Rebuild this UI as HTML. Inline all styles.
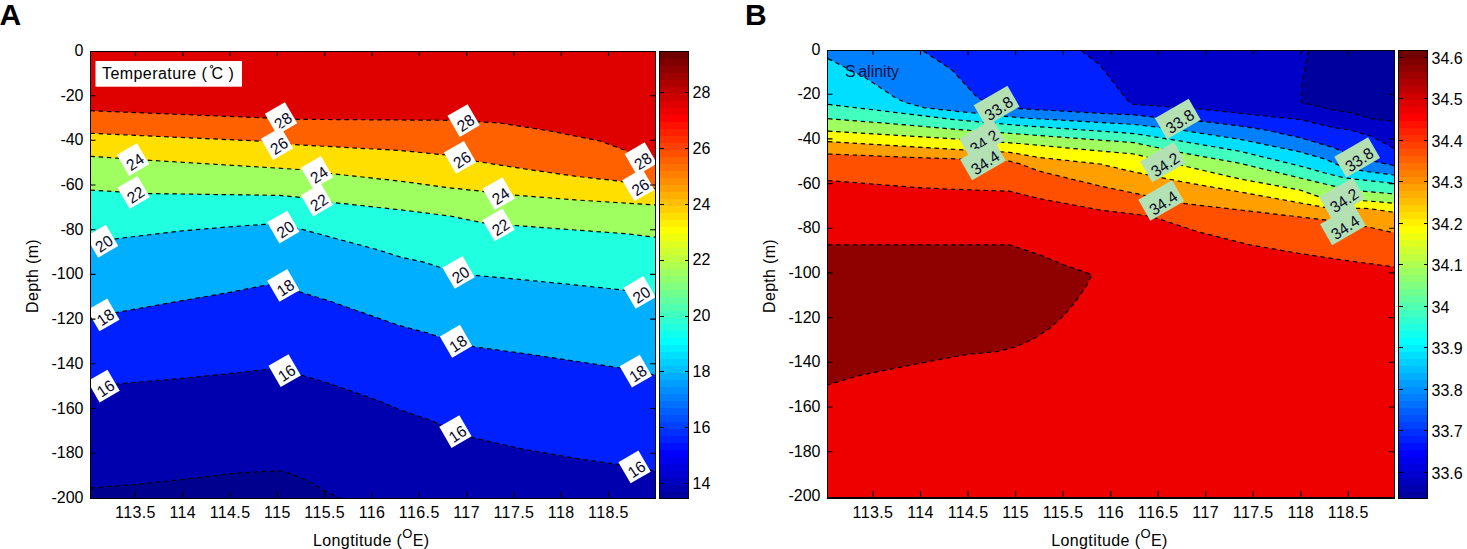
<!DOCTYPE html>
<html><head><meta charset="utf-8"><title>Temperature and Salinity sections</title>
<style>html,body{margin:0;padding:0;background:#fff;}svg{display:block;}body{font-family:"Liberation Sans", sans-serif;}</style></head>
<body>
<svg width="1467" height="549" viewBox="0 0 1467 549" font-family='"Liberation Sans", sans-serif'>
<rect width="1467" height="549" fill="#fff"/>
<text x="-0.5" y="24.5" font-size="30" font-weight="bold">A</text>
<clipPath id="ca"><rect x="90.5" y="51.5" width="565.0" height="447.0"/></clipPath>
<g clip-path="url(#ca)">
<rect x="90.5" y="51.5" width="565.0" height="447.0" fill="#DF0000"/>
<polygon points="90.5,110.7 263.0,117.8 279.0,118.5 297.0,119.3 446.0,120.3 480.0,121.8 500.0,123.0 550.0,131.0 600.0,141.0 624.5,150.0 640.0,158.0 655.5,166.0 655.5,498.5 90.5,498.5" fill="#FF6000"/>
<polygon points="90.5,133.3 260.0,141.1 279.0,143.0 294.6,144.6 400.0,150.5 446.0,155.0 462.0,158.5 475.0,161.1 525.0,169.0 575.0,176.2 619.5,181.1 638.0,185.0 655.5,189.0 655.5,498.5 90.5,498.5" fill="#FFDF00"/>
<polygon points="90.5,156.3 136.0,159.5 299.6,169.5 316.0,172.0 332.0,173.7 400.0,181.1 446.0,187.4 480.0,191.1 496.0,193.5 512.0,194.9 575.0,199.9 655.5,204.9 655.5,498.5 90.5,498.5" fill="#9FFF60"/>
<polygon points="90.5,190.0 136.0,193.0 150.0,193.6 279.6,195.4 299.6,197.4 316.0,200.0 332.0,202.4 400.0,209.8 450.0,216.0 480.0,222.3 498.0,224.5 515.0,225.5 575.0,230.0 624.5,233.6 655.5,237.2 655.5,498.5 90.5,498.5" fill="#20FFDF"/>
<polygon points="90.5,245.0 103.7,241.2 117.4,238.6 179.8,231.1 229.7,226.8 264.6,224.4 279.0,224.0 299.6,228.7 329.5,236.8 379.4,250.3 400.0,256.9 425.0,262.4 443.7,268.6 458.6,272.4 474.8,275.4 524.7,279.9 574.6,284.9 622.0,289.9 639.5,292.4 655.5,295.0 655.5,498.5 90.5,498.5" fill="#00AFFF"/>
<polygon points="90.5,318.0 105.0,314.8 117.4,312.3 179.8,301.1 229.7,292.4 264.6,285.4 279.0,283.5 299.6,291.9 329.5,301.0 379.4,318.6 400.0,325.7 429.3,333.5 440.0,337.3 456.0,341.2 474.8,347.0 524.7,353.6 574.6,361.1 617.0,367.4 635.8,371.1 655.5,375.0 655.5,498.5 90.5,498.5" fill="#0020FF"/>
<polygon points="90.5,389.0 105.0,386.0 117.4,384.0 179.8,378.6 229.7,373.6 267.0,369.4 279.0,368.5 302.0,375.4 329.5,383.6 379.4,401.0 400.0,409.8 429.3,419.8 437.4,423.3 456.0,431.5 474.8,438.3 524.7,449.4 574.6,458.2 617.0,464.4 634.5,466.9 655.5,471.0 655.5,498.5 90.5,498.5" fill="#0000AF"/>
<polygon points="90.5,488.0 136.0,484.4 184.0,479.4 231.5,473.6 264.5,471.4 279.4,470.9 292.0,473.9 311.9,483.1 324.4,490.6 340.6,498.5 90.5,498.5" fill="#00008F"/>
<polyline points="90.5,110.7 263.0,117.8 279.0,118.5 297.0,119.3 446.0,120.3 480.0,121.8 500.0,123.0 550.0,131.0 600.0,141.0 624.5,150.0 640.0,158.0 655.5,166.0" stroke="#000" stroke-width="1.2" fill="none" stroke-dasharray="4.5 3.7"/>
<polyline points="90.5,133.3 260.0,141.1 279.0,143.0 294.6,144.6 400.0,150.5 446.0,155.0 462.0,158.5 475.0,161.1 525.0,169.0 575.0,176.2 619.5,181.1 638.0,185.0 655.5,189.0" stroke="#000" stroke-width="1.2" fill="none" stroke-dasharray="4.5 3.7"/>
<polyline points="90.5,156.3 136.0,159.5 299.6,169.5 316.0,172.0 332.0,173.7 400.0,181.1 446.0,187.4 480.0,191.1 496.0,193.5 512.0,194.9 575.0,199.9 655.5,204.9" stroke="#000" stroke-width="1.2" fill="none" stroke-dasharray="4.5 3.7"/>
<polyline points="90.5,190.0 136.0,193.0 150.0,193.6 279.6,195.4 299.6,197.4 316.0,200.0 332.0,202.4 400.0,209.8 450.0,216.0 480.0,222.3 498.0,224.5 515.0,225.5 575.0,230.0 624.5,233.6 655.5,237.2" stroke="#000" stroke-width="1.2" fill="none" stroke-dasharray="4.5 3.7"/>
<polyline points="90.5,245.0 103.7,241.2 117.4,238.6 179.8,231.1 229.7,226.8 264.6,224.4 279.0,224.0 299.6,228.7 329.5,236.8 379.4,250.3 400.0,256.9 425.0,262.4 443.7,268.6 458.6,272.4 474.8,275.4 524.7,279.9 574.6,284.9 622.0,289.9 639.5,292.4 655.5,295.0" stroke="#000" stroke-width="1.2" fill="none" stroke-dasharray="4.5 3.7"/>
<polyline points="90.5,318.0 105.0,314.8 117.4,312.3 179.8,301.1 229.7,292.4 264.6,285.4 279.0,283.5 299.6,291.9 329.5,301.0 379.4,318.6 400.0,325.7 429.3,333.5 440.0,337.3 456.0,341.2 474.8,347.0 524.7,353.6 574.6,361.1 617.0,367.4 635.8,371.1 655.5,375.0" stroke="#000" stroke-width="1.2" fill="none" stroke-dasharray="4.5 3.7"/>
<polyline points="90.5,389.0 105.0,386.0 117.4,384.0 179.8,378.6 229.7,373.6 267.0,369.4 279.0,368.5 302.0,375.4 329.5,383.6 379.4,401.0 400.0,409.8 429.3,419.8 437.4,423.3 456.0,431.5 474.8,438.3 524.7,449.4 574.6,458.2 617.0,464.4 634.5,466.9 655.5,471.0" stroke="#000" stroke-width="1.2" fill="none" stroke-dasharray="4.5 3.7"/>
<polyline points="90.5,488.0 136.0,484.4 184.0,479.4 231.5,473.6 264.5,471.4 279.4,470.9 292.0,473.9 311.9,483.1 324.4,490.6 340.6,498.5" stroke="#000" stroke-width="1.2" fill="none" stroke-dasharray="4.5 3.7"/>
<g transform="translate(281.0 118.5) rotate(-30)"><rect x="-11.6" y="-12.2" width="23.2" height="24.5" fill="#fff"/><text transform="translate(1.0 8.8) rotate(-4) scale(0.97 1)" font-size="16" text-anchor="middle" fill="#0a0a28">28</text></g>
<g transform="translate(463.6 120.5) rotate(-30)"><rect x="-11.6" y="-12.2" width="23.2" height="24.5" fill="#fff"/><text transform="translate(1.0 8.8) rotate(-4) scale(0.97 1)" font-size="16" text-anchor="middle" fill="#0a0a28">28</text></g>
<g transform="translate(640.8 158.7) rotate(-30)"><rect x="-11.6" y="-12.2" width="23.2" height="24.5" fill="#fff"/><text transform="translate(1.0 8.8) rotate(-4) scale(0.97 1)" font-size="16" text-anchor="middle" fill="#0a0a28">28</text></g>
<g transform="translate(277.0 143.5) rotate(-30)"><rect x="-11.6" y="-12.2" width="23.2" height="24.5" fill="#fff"/><text transform="translate(1.0 8.8) rotate(-4) scale(0.97 1)" font-size="16" text-anchor="middle" fill="#0a0a28">26</text></g>
<g transform="translate(460.0 157.3) rotate(-30)"><rect x="-11.6" y="-12.2" width="23.2" height="24.5" fill="#fff"/><text transform="translate(1.0 8.8) rotate(-4) scale(0.97 1)" font-size="16" text-anchor="middle" fill="#0a0a28">26</text></g>
<g transform="translate(638.3 184.9) rotate(-30)"><rect x="-11.6" y="-12.2" width="23.2" height="24.5" fill="#fff"/><text transform="translate(1.0 8.8) rotate(-4) scale(0.97 1)" font-size="16" text-anchor="middle" fill="#0a0a28">26</text></g>
<g transform="translate(133.0 159.5) rotate(-30)"><rect x="-11.6" y="-12.2" width="23.2" height="24.5" fill="#fff"/><text transform="translate(1.0 8.8) rotate(-4) scale(0.97 1)" font-size="16" text-anchor="middle" fill="#0a0a28">24</text></g>
<g transform="translate(317.0 172.4) rotate(-30)"><rect x="-11.6" y="-12.2" width="23.2" height="24.5" fill="#fff"/><text transform="translate(1.0 8.8) rotate(-4) scale(0.97 1)" font-size="16" text-anchor="middle" fill="#0a0a28">24</text></g>
<g transform="translate(498.6 193.6) rotate(-30)"><rect x="-11.6" y="-12.2" width="23.2" height="24.5" fill="#fff"/><text transform="translate(1.0 8.8) rotate(-4) scale(0.97 1)" font-size="16" text-anchor="middle" fill="#0a0a28">24</text></g>
<g transform="translate(133.6 192.4) rotate(-30)"><rect x="-11.6" y="-12.2" width="23.2" height="24.5" fill="#fff"/><text transform="translate(1.0 8.8) rotate(-4) scale(0.97 1)" font-size="16" text-anchor="middle" fill="#0a0a28">22</text></g>
<g transform="translate(317.0 200.0) rotate(-30)"><rect x="-11.6" y="-12.2" width="23.2" height="24.5" fill="#fff"/><text transform="translate(1.0 8.8) rotate(-4) scale(0.97 1)" font-size="16" text-anchor="middle" fill="#0a0a28">22</text></g>
<g transform="translate(498.6 224.8) rotate(-30)"><rect x="-11.6" y="-12.2" width="23.2" height="24.5" fill="#fff"/><text transform="translate(1.0 8.8) rotate(-4) scale(0.97 1)" font-size="16" text-anchor="middle" fill="#0a0a28">22</text></g>
<g transform="translate(102.0 241.2) rotate(-30)"><rect x="-11.6" y="-12.2" width="23.2" height="24.5" fill="#fff"/><text transform="translate(1.0 8.8) rotate(-4) scale(0.97 1)" font-size="16" text-anchor="middle" fill="#0a0a28">20</text></g>
<g transform="translate(283.3 227.0) rotate(-30)"><rect x="-11.6" y="-12.2" width="23.2" height="24.5" fill="#fff"/><text transform="translate(1.0 8.8) rotate(-4) scale(0.97 1)" font-size="16" text-anchor="middle" fill="#0a0a28">20</text></g>
<g transform="translate(458.6 272.4) rotate(-30)"><rect x="-11.6" y="-12.2" width="23.2" height="24.5" fill="#fff"/><text transform="translate(1.0 8.8) rotate(-4) scale(0.97 1)" font-size="16" text-anchor="middle" fill="#0a0a28">20</text></g>
<g transform="translate(639.5 292.4) rotate(-30)"><rect x="-11.6" y="-12.2" width="23.2" height="24.5" fill="#fff"/><text transform="translate(1.0 8.8) rotate(-4) scale(0.97 1)" font-size="16" text-anchor="middle" fill="#0a0a28">20</text></g>
<g transform="translate(103.3 314.8) rotate(-30)"><rect x="-11.6" y="-12.2" width="23.2" height="24.5" fill="#fff"/><text transform="translate(1.0 8.8) rotate(-4) scale(0.97 1)" font-size="16" text-anchor="middle" fill="#0a0a28">18</text></g>
<g transform="translate(283.3 285.4) rotate(-30)"><rect x="-11.6" y="-12.2" width="23.2" height="24.5" fill="#fff"/><text transform="translate(1.0 8.8) rotate(-4) scale(0.97 1)" font-size="16" text-anchor="middle" fill="#0a0a28">18</text></g>
<g transform="translate(456.0 341.2) rotate(-30)"><rect x="-11.6" y="-12.2" width="23.2" height="24.5" fill="#fff"/><text transform="translate(1.0 8.8) rotate(-4) scale(0.97 1)" font-size="16" text-anchor="middle" fill="#0a0a28">18</text></g>
<g transform="translate(635.8 371.1) rotate(-30)"><rect x="-11.6" y="-12.2" width="23.2" height="24.5" fill="#fff"/><text transform="translate(1.0 8.8) rotate(-4) scale(0.97 1)" font-size="16" text-anchor="middle" fill="#0a0a28">18</text></g>
<g transform="translate(103.5 386.0) rotate(-30)"><rect x="-11.6" y="-12.2" width="23.2" height="24.5" fill="#fff"/><text transform="translate(1.0 8.8) rotate(-4) scale(0.97 1)" font-size="16" text-anchor="middle" fill="#0a0a28">16</text></g>
<g transform="translate(284.6 370.6) rotate(-30)"><rect x="-11.6" y="-12.2" width="23.2" height="24.5" fill="#fff"/><text transform="translate(1.0 8.8) rotate(-4) scale(0.97 1)" font-size="16" text-anchor="middle" fill="#0a0a28">16</text></g>
<g transform="translate(455.4 431.5) rotate(-30)"><rect x="-11.6" y="-12.2" width="23.2" height="24.5" fill="#fff"/><text transform="translate(1.0 8.8) rotate(-4) scale(0.97 1)" font-size="16" text-anchor="middle" fill="#0a0a28">16</text></g>
<g transform="translate(634.5 466.9) rotate(-30)"><rect x="-11.6" y="-12.2" width="23.2" height="24.5" fill="#fff"/><text transform="translate(1.0 8.8) rotate(-4) scale(0.97 1)" font-size="16" text-anchor="middle" fill="#0a0a28">16</text></g>
</g>
<rect x="95.5" y="61" width="146.5" height="25.7" fill="#fff"/>
<text x="102" y="78.5" font-size="16" letter-spacing="0.43">Temperature (</text>
<circle cx="211.6" cy="66.6" r="1.2" fill="none" stroke="#000" stroke-width="1"/>
<text x="211.6" y="78.5" font-size="16" letter-spacing="0.43">C )</text>
<g stroke="#000" stroke-width="1.1" fill="none"><rect x="90.5" y="51.5" width="565.0" height="447.0" shape-rendering="crispEdges"/><path d="M135.5 498.5v-7M135.5 51.5v4.5"/><path d="M182.8 498.5v-7M182.8 51.5v4.5"/><path d="M230.1 498.5v-7M230.1 51.5v4.5"/><path d="M277.4 498.5v-7M277.4 51.5v4.5"/><path d="M324.7 498.5v-7M324.7 51.5v4.5"/><path d="M372.0 498.5v-7M372.0 51.5v4.5"/><path d="M419.3 498.5v-7M419.3 51.5v4.5"/><path d="M466.6 498.5v-7M466.6 51.5v4.5"/><path d="M513.9 498.5v-7M513.9 51.5v4.5"/><path d="M561.2 498.5v-7M561.2 51.5v4.5"/><path d="M608.5 498.5v-7M608.5 51.5v4.5"/><path d="M90.5 95.7h5M655.5 95.7h-5.5"/><path d="M90.5 140.3h5M655.5 140.3h-5.5"/><path d="M90.5 185.0h5M655.5 185.0h-5.5"/><path d="M90.5 229.7h5M655.5 229.7h-5.5"/><path d="M90.5 274.4h5M655.5 274.4h-5.5"/><path d="M90.5 319.1h5M655.5 319.1h-5.5"/><path d="M90.5 363.8h5M655.5 363.8h-5.5"/><path d="M90.5 408.5h5M655.5 408.5h-5.5"/><path d="M90.5 453.2h5M655.5 453.2h-5.5"/></g>
<g font-size="16" fill="#000" text-anchor="end"><text x="83.5" y="56.0">0</text><text x="83.5" y="100.7">-20</text><text x="83.5" y="145.3">-40</text><text x="83.5" y="190.0">-60</text><text x="83.5" y="234.7">-80</text><text x="83.5" y="279.4">-100</text><text x="83.5" y="324.1">-120</text><text x="83.5" y="368.8">-140</text><text x="83.5" y="413.5">-160</text><text x="83.5" y="458.2">-180</text><text x="83.5" y="502.9">-200</text></g>
<g font-size="16" fill="#000" text-anchor="middle" letter-spacing="0.4"><text x="135.5" y="518.4">113.5</text><text x="182.8" y="518.4">114</text><text x="230.1" y="518.4">114.5</text><text x="277.4" y="518.4">115</text><text x="324.7" y="518.4">115.5</text><text x="372.0" y="518.4">116</text><text x="419.3" y="518.4">116.5</text><text x="466.6" y="518.4">117</text><text x="513.9" y="518.4">117.5</text><text x="561.2" y="518.4">118</text><text x="608.5" y="518.4">118.5</text></g>
<text x="371.3" y="545.6" font-size="16" letter-spacing="0.4" text-anchor="middle">Longtitude (<tspan dy="-8" font-size="13">O</tspan><tspan dy="8">E)</tspan></text>
<text transform="translate(37.5 276) rotate(-90)" font-size="16" letter-spacing="0.3" text-anchor="middle">Depth (m)</text>
<g shape-rendering="crispEdges"><rect x="659.5" y="491.52" width="29.0" height="7.58" fill="#00009F"/><rect x="659.5" y="484.53" width="29.0" height="7.58" fill="#0000AF"/><rect x="659.5" y="477.55" width="29.0" height="7.58" fill="#0000BF"/><rect x="659.5" y="470.56" width="29.0" height="7.58" fill="#0000CF"/><rect x="659.5" y="463.58" width="29.0" height="7.58" fill="#0000DF"/><rect x="659.5" y="456.59" width="29.0" height="7.58" fill="#0000EF"/><rect x="659.5" y="449.61" width="29.0" height="7.58" fill="#0000FF"/><rect x="659.5" y="442.62" width="29.0" height="7.58" fill="#0010FF"/><rect x="659.5" y="435.64" width="29.0" height="7.58" fill="#0020FF"/><rect x="659.5" y="428.66" width="29.0" height="7.58" fill="#0030FF"/><rect x="659.5" y="421.67" width="29.0" height="7.58" fill="#0040FF"/><rect x="659.5" y="414.69" width="29.0" height="7.58" fill="#0050FF"/><rect x="659.5" y="407.70" width="29.0" height="7.58" fill="#0060FF"/><rect x="659.5" y="400.72" width="29.0" height="7.58" fill="#0070FF"/><rect x="659.5" y="393.73" width="29.0" height="7.58" fill="#0080FF"/><rect x="659.5" y="386.75" width="29.0" height="7.58" fill="#008FFF"/><rect x="659.5" y="379.77" width="29.0" height="7.58" fill="#009FFF"/><rect x="659.5" y="372.78" width="29.0" height="7.58" fill="#00AFFF"/><rect x="659.5" y="365.80" width="29.0" height="7.58" fill="#00BFFF"/><rect x="659.5" y="358.81" width="29.0" height="7.58" fill="#00CFFF"/><rect x="659.5" y="351.83" width="29.0" height="7.58" fill="#00DFFF"/><rect x="659.5" y="344.84" width="29.0" height="7.58" fill="#00EFFF"/><rect x="659.5" y="337.86" width="29.0" height="7.58" fill="#00FFFF"/><rect x="659.5" y="330.88" width="29.0" height="7.58" fill="#10FFEF"/><rect x="659.5" y="323.89" width="29.0" height="7.58" fill="#20FFDF"/><rect x="659.5" y="316.91" width="29.0" height="7.58" fill="#30FFCF"/><rect x="659.5" y="309.92" width="29.0" height="7.58" fill="#40FFBF"/><rect x="659.5" y="302.94" width="29.0" height="7.58" fill="#50FFAF"/><rect x="659.5" y="295.95" width="29.0" height="7.58" fill="#60FF9F"/><rect x="659.5" y="288.97" width="29.0" height="7.58" fill="#70FF8F"/><rect x="659.5" y="281.98" width="29.0" height="7.58" fill="#80FF80"/><rect x="659.5" y="275.00" width="29.0" height="7.58" fill="#8FFF70"/><rect x="659.5" y="268.02" width="29.0" height="7.58" fill="#9FFF60"/><rect x="659.5" y="261.03" width="29.0" height="7.58" fill="#AFFF50"/><rect x="659.5" y="254.05" width="29.0" height="7.58" fill="#BFFF40"/><rect x="659.5" y="247.06" width="29.0" height="7.58" fill="#CFFF30"/><rect x="659.5" y="240.08" width="29.0" height="7.58" fill="#DFFF20"/><rect x="659.5" y="233.09" width="29.0" height="7.58" fill="#EFFF10"/><rect x="659.5" y="226.11" width="29.0" height="7.58" fill="#FFFF00"/><rect x="659.5" y="219.12" width="29.0" height="7.58" fill="#FFEF00"/><rect x="659.5" y="212.14" width="29.0" height="7.58" fill="#FFDF00"/><rect x="659.5" y="205.16" width="29.0" height="7.58" fill="#FFCF00"/><rect x="659.5" y="198.17" width="29.0" height="7.58" fill="#FFBF00"/><rect x="659.5" y="191.19" width="29.0" height="7.58" fill="#FFAF00"/><rect x="659.5" y="184.20" width="29.0" height="7.58" fill="#FF9F00"/><rect x="659.5" y="177.22" width="29.0" height="7.58" fill="#FF8F00"/><rect x="659.5" y="170.23" width="29.0" height="7.58" fill="#FF8000"/><rect x="659.5" y="163.25" width="29.0" height="7.58" fill="#FF7000"/><rect x="659.5" y="156.27" width="29.0" height="7.58" fill="#FF6000"/><rect x="659.5" y="149.28" width="29.0" height="7.58" fill="#FF5000"/><rect x="659.5" y="142.30" width="29.0" height="7.58" fill="#FF4000"/><rect x="659.5" y="135.31" width="29.0" height="7.58" fill="#FF3000"/><rect x="659.5" y="128.33" width="29.0" height="7.58" fill="#FF2000"/><rect x="659.5" y="121.34" width="29.0" height="7.58" fill="#FF1000"/><rect x="659.5" y="114.36" width="29.0" height="7.58" fill="#FF0000"/><rect x="659.5" y="107.38" width="29.0" height="7.58" fill="#EF0000"/><rect x="659.5" y="100.39" width="29.0" height="7.58" fill="#DF0000"/><rect x="659.5" y="93.41" width="29.0" height="7.58" fill="#CF0000"/><rect x="659.5" y="86.42" width="29.0" height="7.58" fill="#BF0000"/><rect x="659.5" y="79.44" width="29.0" height="7.58" fill="#AF0000"/><rect x="659.5" y="72.45" width="29.0" height="7.58" fill="#9F0000"/><rect x="659.5" y="65.47" width="29.0" height="7.58" fill="#8F0000"/><rect x="659.5" y="58.48" width="29.0" height="7.58" fill="#800000"/><rect x="659.5" y="51.50" width="29.0" height="7.58" fill="#700000"/></g>
<g stroke="#000" stroke-width="1" fill="none" shape-rendering="crispEdges"><rect x="659.5" y="51.5" width="29.0" height="447.0"/><path d="M659.5 92.9h4M688.5 92.9h-4"/><path d="M659.5 148.7h4M688.5 148.7h-4"/><path d="M659.5 204.5h4M688.5 204.5h-4"/><path d="M659.5 260.3h4M688.5 260.3h-4"/><path d="M659.5 316.1h4M688.5 316.1h-4"/><path d="M659.5 371.9h4M688.5 371.9h-4"/><path d="M659.5 427.7h4M688.5 427.7h-4"/><path d="M659.5 483.5h4M688.5 483.5h-4"/></g>
<g font-size="16" fill="#000"><text x="692.5" y="97.9">28</text><text x="692.5" y="153.7">26</text><text x="692.5" y="209.5">24</text><text x="692.5" y="265.3">22</text><text x="692.5" y="321.1">20</text><text x="692.5" y="376.9">18</text><text x="692.5" y="432.7">16</text><text x="692.5" y="488.5">14</text></g>
<text x="745" y="24.5" font-size="30" font-weight="bold">B</text>
<clipPath id="cb"><rect x="827.5" y="50.5" width="567.0" height="447.5"/></clipPath>
<g clip-path="url(#cb)">
<rect x="827.5" y="50.5" width="567.0" height="447.5" fill="#0000C8"/>
<polygon points="1308.3,51.0 1301.6,87.3 1301.6,102.4 1333.0,110.0 1349.5,112.3 1371.0,118.7 1395.0,121.7 1395.0,51.0" fill="#00009F"/>
<polygon points="828.0,51.0 1081.8,51.0 1100.0,65.0 1125.0,97.3 1130.0,102.8 1134.0,104.3 1199.8,109.0 1274.6,117.0 1300.0,119.5 1333.0,127.5 1350.0,130.0 1372.0,136.5 1395.0,149.0 1394.5,498.0 827.5,498.0" fill="#0020FF"/>
<polygon points="828.0,51.0 923.4,51.0 952.0,70.0 977.0,97.3 990.0,104.0 1017.0,108.5 1100.0,113.3 1134.0,114.9 1180.0,120.0 1202.0,121.3 1240.0,126.0 1265.7,130.0 1300.0,137.7 1333.0,147.4 1358.0,158.0 1395.0,165.8 1394.5,498.0 827.5,498.0" fill="#0080FF"/>
<polygon points="828.0,58.6 864.8,77.3 894.7,97.3 904.7,102.3 924.6,107.8 954.0,111.0 1019.0,117.7 1100.0,122.5 1134.0,124.4 1180.0,130.0 1240.0,139.3 1300.0,151.9 1325.0,159.0 1345.0,168.0 1370.0,172.0 1395.0,175.0 1394.5,498.0 827.5,498.0" fill="#00DFFF"/>
<polygon points="828.0,104.3 896.5,112.6 954.0,119.6 1019.0,125.4 1100.0,131.1 1134.0,133.6 1180.0,140.9 1240.0,151.3 1300.0,166.0 1325.0,173.0 1345.0,178.0 1395.0,183.5 1394.5,498.0 827.5,498.0" fill="#40FFBF"/>
<polygon points="828.0,118.7 889.7,123.5 954.0,129.2 1019.0,134.0 1100.0,140.1 1134.0,142.6 1180.0,152.4 1240.0,163.3 1300.0,178.0 1325.0,184.0 1350.0,190.0 1395.0,194.0 1394.5,498.0 827.5,498.0" fill="#9FFF60"/>
<polygon points="828.0,131.1 954.0,138.8 1019.0,143.5 1100.0,151.0 1134.0,154.0 1180.0,165.0 1240.0,179.0 1300.0,190.0 1324.6,198.7 1369.5,201.1 1395.0,203.3 1394.5,498.0 827.5,498.0" fill="#FFFF00"/>
<polygon points="828.0,141.6 954.0,149.3 1009.5,152.3 1039.4,157.5 1100.0,164.0 1134.0,172.0 1180.0,181.4 1249.7,193.7 1324.6,207.4 1369.5,208.6 1395.0,212.5 1394.5,498.0 827.5,498.0" fill="#FF9F00"/>
<polygon points="828.0,154.0 914.6,157.5 954.0,158.8 1009.5,161.2 1019.0,163.6 1039.4,171.2 1100.0,186.0 1142.4,194.9 1184.8,203.6 1249.7,211.1 1324.6,219.9 1369.5,227.3 1395.0,233.0 1394.5,498.0 827.5,498.0" fill="#FF5000"/>
<polygon points="828.0,180.5 914.6,187.4 954.0,189.4 1009.5,191.2 1039.4,198.6 1100.0,210.0 1150.0,216.1 1199.8,232.3 1249.7,244.8 1299.6,253.5 1349.5,261.0 1395.0,267.0 1394.5,498.0 827.5,498.0" fill="#EF0000"/>
<polygon points="828.0,244.8 1009.5,244.8 1039.4,254.8 1064.4,265.0 1091.8,274.6 1086.8,285.0 1076.8,299.9 1064.4,314.9 1049.4,328.6 1031.9,339.8 1014.5,347.3 997.0,351.6 964.6,354.8 932.1,361.0 899.7,367.3 857.3,376.0 828.0,384.8" fill="#8F0000"/>
<polyline points="1308.3,51.0 1301.6,87.3 1301.6,102.4 1333.0,110.0 1349.5,112.3 1371.0,118.7 1395.0,121.7" stroke="#000" stroke-width="1.2" fill="none" stroke-dasharray="4.5 3.7"/>
<polyline points="1081.8,51.0 1100.0,65.0 1125.0,97.3 1130.0,102.8 1134.0,104.3 1199.8,109.0 1274.6,117.0 1300.0,119.5 1333.0,127.5 1350.0,130.0 1372.0,136.5 1395.0,149.0" stroke="#000" stroke-width="1.2" fill="none" stroke-dasharray="4.5 3.7"/>
<polyline points="923.4,51.0 952.0,70.0 977.0,97.3 990.0,104.0 1017.0,108.5 1100.0,113.3 1134.0,114.9 1180.0,120.0 1202.0,121.3 1240.0,126.0 1265.7,130.0 1300.0,137.7 1333.0,147.4 1358.0,158.0 1395.0,165.8" stroke="#000" stroke-width="1.2" fill="none" stroke-dasharray="4.5 3.7"/>
<polyline points="828.0,58.6 864.8,77.3 894.7,97.3 904.7,102.3 924.6,107.8 954.0,111.0 1019.0,117.7 1100.0,122.5 1134.0,124.4 1180.0,130.0 1240.0,139.3 1300.0,151.9 1325.0,159.0 1345.0,168.0 1370.0,172.0 1395.0,175.0" stroke="#000" stroke-width="1.2" fill="none" stroke-dasharray="4.5 3.7"/>
<polyline points="828.0,104.3 896.5,112.6 954.0,119.6 1019.0,125.4 1100.0,131.1 1134.0,133.6 1180.0,140.9 1240.0,151.3 1300.0,166.0 1325.0,173.0 1345.0,178.0 1395.0,183.5" stroke="#000" stroke-width="1.2" fill="none" stroke-dasharray="4.5 3.7"/>
<polyline points="828.0,118.7 889.7,123.5 954.0,129.2 1019.0,134.0 1100.0,140.1 1134.0,142.6 1180.0,152.4 1240.0,163.3 1300.0,178.0 1325.0,184.0 1350.0,190.0 1395.0,194.0" stroke="#000" stroke-width="1.2" fill="none" stroke-dasharray="4.5 3.7"/>
<polyline points="828.0,131.1 954.0,138.8 1019.0,143.5 1100.0,151.0 1134.0,154.0 1180.0,165.0 1240.0,179.0 1300.0,190.0 1324.6,198.7 1369.5,201.1 1395.0,203.3" stroke="#000" stroke-width="1.2" fill="none" stroke-dasharray="4.5 3.7"/>
<polyline points="828.0,141.6 954.0,149.3 1009.5,152.3 1039.4,157.5 1100.0,164.0 1134.0,172.0 1180.0,181.4 1249.7,193.7 1324.6,207.4 1369.5,208.6 1395.0,212.5" stroke="#000" stroke-width="1.2" fill="none" stroke-dasharray="4.5 3.7"/>
<polyline points="828.0,154.0 914.6,157.5 954.0,158.8 1009.5,161.2 1019.0,163.6 1039.4,171.2 1100.0,186.0 1142.4,194.9 1184.8,203.6 1249.7,211.1 1324.6,219.9 1369.5,227.3 1395.0,233.0" stroke="#000" stroke-width="1.2" fill="none" stroke-dasharray="4.5 3.7"/>
<polyline points="828.0,180.5 914.6,187.4 954.0,189.4 1009.5,191.2 1039.4,198.6 1100.0,210.0 1150.0,216.1 1199.8,232.3 1249.7,244.8 1299.6,253.5 1349.5,261.0 1395.0,267.0" stroke="#000" stroke-width="1.2" fill="none" stroke-dasharray="4.5 3.7"/>
<polyline points="828.0,244.8 1009.5,244.8 1039.4,254.8 1064.4,265.0 1091.8,274.6 1086.8,285.0 1076.8,299.9 1064.4,314.9 1049.4,328.6 1031.9,339.8 1014.5,347.3 997.0,351.6 964.6,354.8 932.1,361.0 899.7,367.3 857.3,376.0 828.0,384.8" stroke="#000" stroke-width="1.2" fill="none" stroke-dasharray="4.5 3.7"/>
<g transform="translate(982.0 139.5) rotate(-30)"><rect x="-19.5" y="-12.0" width="39.0" height="24.0" fill="#B4E1B4"/><text transform="translate(1.0 8.8) rotate(-4) scale(0.97 1)" font-size="16" text-anchor="middle" fill="#0a0a28">34.2</text></g>
<g transform="translate(1163.0 162.2) rotate(-30)"><rect x="-19.5" y="-12.0" width="39.0" height="24.0" fill="#B4E1B4"/><text transform="translate(1.0 8.8) rotate(-4) scale(0.97 1)" font-size="16" text-anchor="middle" fill="#0a0a28">34.2</text></g>
<g transform="translate(1342.0 198.0) rotate(-30)"><rect x="-19.5" y="-12.0" width="39.0" height="24.0" fill="#B4E1B4"/><text transform="translate(1.0 8.8) rotate(-4) scale(0.97 1)" font-size="16" text-anchor="middle" fill="#0a0a28">34.2</text></g>
<g transform="translate(996.6 106.0) rotate(-30)"><rect x="-19.5" y="-12.0" width="39.0" height="24.0" fill="#B4E1B4"/><text transform="translate(1.0 8.8) rotate(-4) scale(0.97 1)" font-size="16" text-anchor="middle" fill="#0a0a28">33.8</text></g>
<g transform="translate(1177.8 119.0) rotate(-30)"><rect x="-19.5" y="-12.0" width="39.0" height="24.0" fill="#B4E1B4"/><text transform="translate(1.0 8.8) rotate(-4) scale(0.97 1)" font-size="16" text-anchor="middle" fill="#0a0a28">33.8</text></g>
<g transform="translate(1357.2 157.3) rotate(-30)"><rect x="-19.5" y="-12.0" width="39.0" height="24.0" fill="#B4E1B4"/><text transform="translate(1.0 8.8) rotate(-4) scale(0.97 1)" font-size="16" text-anchor="middle" fill="#0a0a28">33.8</text></g>
<g transform="translate(983.0 160.2) rotate(-30)"><rect x="-19.5" y="-12.0" width="39.0" height="24.0" fill="#B4E1B4"/><text transform="translate(1.0 8.8) rotate(-4) scale(0.97 1)" font-size="16" text-anchor="middle" fill="#0a0a28">34.4</text></g>
<g transform="translate(1161.2 200.5) rotate(-30)"><rect x="-19.5" y="-12.0" width="39.0" height="24.0" fill="#B4E1B4"/><text transform="translate(1.0 8.8) rotate(-4) scale(0.97 1)" font-size="16" text-anchor="middle" fill="#0a0a28">34.4</text></g>
<g transform="translate(1343.0 225.0) rotate(-30)"><rect x="-19.5" y="-12.0" width="39.0" height="24.0" fill="#B4E1B4"/><text transform="translate(1.0 8.8) rotate(-4) scale(0.97 1)" font-size="16" text-anchor="middle" fill="#0a0a28">34.4</text></g>
</g>
<text x="845" y="77" font-size="16" fill="#101040">S<tspan dx="2.5">alinity</tspan></text>
<g stroke="#000" stroke-width="1.1" fill="none"><rect x="827.5" y="50.5" width="567.0" height="447.5" shape-rendering="crispEdges"/><path d="M873.0 498.0v-7M873.0 50.5v4.5"/><path d="M920.5 498.0v-7M920.5 50.5v4.5"/><path d="M968.1 498.0v-7M968.1 50.5v4.5"/><path d="M1015.6 498.0v-7M1015.6 50.5v4.5"/><path d="M1063.1 498.0v-7M1063.1 50.5v4.5"/><path d="M1110.7 498.0v-7M1110.7 50.5v4.5"/><path d="M1158.2 498.0v-7M1158.2 50.5v4.5"/><path d="M1205.7 498.0v-7M1205.7 50.5v4.5"/><path d="M1253.2 498.0v-7M1253.2 50.5v4.5"/><path d="M1300.8 498.0v-7M1300.8 50.5v4.5"/><path d="M1348.3 498.0v-7M1348.3 50.5v4.5"/><path d="M827.5 94.2h5M1394.5 94.2h-5.5"/><path d="M827.5 138.9h5M1394.5 138.9h-5.5"/><path d="M827.5 183.6h5M1394.5 183.6h-5.5"/><path d="M827.5 228.3h5M1394.5 228.3h-5.5"/><path d="M827.5 272.9h5M1394.5 272.9h-5.5"/><path d="M827.5 317.6h5M1394.5 317.6h-5.5"/><path d="M827.5 362.3h5M1394.5 362.3h-5.5"/><path d="M827.5 407.0h5M1394.5 407.0h-5.5"/><path d="M827.5 451.7h5M1394.5 451.7h-5.5"/></g>
<g font-size="16" fill="#000" text-anchor="end"><text x="820.5" y="54.5">0</text><text x="820.5" y="99.2">-20</text><text x="820.5" y="143.9">-40</text><text x="820.5" y="188.6">-60</text><text x="820.5" y="233.3">-80</text><text x="820.5" y="277.9">-100</text><text x="820.5" y="322.6">-120</text><text x="820.5" y="367.3">-140</text><text x="820.5" y="412.0">-160</text><text x="820.5" y="456.7">-180</text><text x="820.5" y="501.4">-200</text></g>
<g font-size="16" fill="#000" text-anchor="middle" letter-spacing="0.4"><text x="873.0" y="518.4">113.5</text><text x="920.5" y="518.4">114</text><text x="968.1" y="518.4">114.5</text><text x="1015.6" y="518.4">115</text><text x="1063.1" y="518.4">115.5</text><text x="1110.7" y="518.4">116</text><text x="1158.2" y="518.4">116.5</text><text x="1205.7" y="518.4">117</text><text x="1253.2" y="518.4">117.5</text><text x="1300.8" y="518.4">118</text><text x="1348.3" y="518.4">118.5</text></g>
<text x="1109.5" y="545.6" font-size="16" letter-spacing="0.4" text-anchor="middle">Longtitude (<tspan dy="-8" font-size="13">O</tspan><tspan dy="8">E)</tspan></text>
<text transform="translate(775.0 276) rotate(-90)" font-size="16" letter-spacing="0.3" text-anchor="middle">Depth (m)</text>
<g shape-rendering="crispEdges"><rect x="1398.8" y="491.01" width="28.8" height="7.59" fill="#00009F"/><rect x="1398.8" y="484.02" width="28.8" height="7.59" fill="#0000AF"/><rect x="1398.8" y="477.02" width="28.8" height="7.59" fill="#0000BF"/><rect x="1398.8" y="470.03" width="28.8" height="7.59" fill="#0000CF"/><rect x="1398.8" y="463.04" width="28.8" height="7.59" fill="#0000DF"/><rect x="1398.8" y="456.05" width="28.8" height="7.59" fill="#0000EF"/><rect x="1398.8" y="449.05" width="28.8" height="7.59" fill="#0000FF"/><rect x="1398.8" y="442.06" width="28.8" height="7.59" fill="#0010FF"/><rect x="1398.8" y="435.07" width="28.8" height="7.59" fill="#0020FF"/><rect x="1398.8" y="428.08" width="28.8" height="7.59" fill="#0030FF"/><rect x="1398.8" y="421.09" width="28.8" height="7.59" fill="#0040FF"/><rect x="1398.8" y="414.09" width="28.8" height="7.59" fill="#0050FF"/><rect x="1398.8" y="407.10" width="28.8" height="7.59" fill="#0060FF"/><rect x="1398.8" y="400.11" width="28.8" height="7.59" fill="#0070FF"/><rect x="1398.8" y="393.12" width="28.8" height="7.59" fill="#0080FF"/><rect x="1398.8" y="386.12" width="28.8" height="7.59" fill="#008FFF"/><rect x="1398.8" y="379.13" width="28.8" height="7.59" fill="#009FFF"/><rect x="1398.8" y="372.14" width="28.8" height="7.59" fill="#00AFFF"/><rect x="1398.8" y="365.15" width="28.8" height="7.59" fill="#00BFFF"/><rect x="1398.8" y="358.16" width="28.8" height="7.59" fill="#00CFFF"/><rect x="1398.8" y="351.16" width="28.8" height="7.59" fill="#00DFFF"/><rect x="1398.8" y="344.17" width="28.8" height="7.59" fill="#00EFFF"/><rect x="1398.8" y="337.18" width="28.8" height="7.59" fill="#00FFFF"/><rect x="1398.8" y="330.19" width="28.8" height="7.59" fill="#10FFEF"/><rect x="1398.8" y="323.20" width="28.8" height="7.59" fill="#20FFDF"/><rect x="1398.8" y="316.20" width="28.8" height="7.59" fill="#30FFCF"/><rect x="1398.8" y="309.21" width="28.8" height="7.59" fill="#40FFBF"/><rect x="1398.8" y="302.22" width="28.8" height="7.59" fill="#50FFAF"/><rect x="1398.8" y="295.23" width="28.8" height="7.59" fill="#60FF9F"/><rect x="1398.8" y="288.23" width="28.8" height="7.59" fill="#70FF8F"/><rect x="1398.8" y="281.24" width="28.8" height="7.59" fill="#80FF80"/><rect x="1398.8" y="274.25" width="28.8" height="7.59" fill="#8FFF70"/><rect x="1398.8" y="267.26" width="28.8" height="7.59" fill="#9FFF60"/><rect x="1398.8" y="260.27" width="28.8" height="7.59" fill="#AFFF50"/><rect x="1398.8" y="253.27" width="28.8" height="7.59" fill="#BFFF40"/><rect x="1398.8" y="246.28" width="28.8" height="7.59" fill="#CFFF30"/><rect x="1398.8" y="239.29" width="28.8" height="7.59" fill="#DFFF20"/><rect x="1398.8" y="232.30" width="28.8" height="7.59" fill="#EFFF10"/><rect x="1398.8" y="225.30" width="28.8" height="7.59" fill="#FFFF00"/><rect x="1398.8" y="218.31" width="28.8" height="7.59" fill="#FFEF00"/><rect x="1398.8" y="211.32" width="28.8" height="7.59" fill="#FFDF00"/><rect x="1398.8" y="204.33" width="28.8" height="7.59" fill="#FFCF00"/><rect x="1398.8" y="197.34" width="28.8" height="7.59" fill="#FFBF00"/><rect x="1398.8" y="190.34" width="28.8" height="7.59" fill="#FFAF00"/><rect x="1398.8" y="183.35" width="28.8" height="7.59" fill="#FF9F00"/><rect x="1398.8" y="176.36" width="28.8" height="7.59" fill="#FF8F00"/><rect x="1398.8" y="169.37" width="28.8" height="7.59" fill="#FF8000"/><rect x="1398.8" y="162.38" width="28.8" height="7.59" fill="#FF7000"/><rect x="1398.8" y="155.38" width="28.8" height="7.59" fill="#FF6000"/><rect x="1398.8" y="148.39" width="28.8" height="7.59" fill="#FF5000"/><rect x="1398.8" y="141.40" width="28.8" height="7.59" fill="#FF4000"/><rect x="1398.8" y="134.41" width="28.8" height="7.59" fill="#FF3000"/><rect x="1398.8" y="127.41" width="28.8" height="7.59" fill="#FF2000"/><rect x="1398.8" y="120.42" width="28.8" height="7.59" fill="#FF1000"/><rect x="1398.8" y="113.43" width="28.8" height="7.59" fill="#FF0000"/><rect x="1398.8" y="106.44" width="28.8" height="7.59" fill="#EF0000"/><rect x="1398.8" y="99.45" width="28.8" height="7.59" fill="#DF0000"/><rect x="1398.8" y="92.45" width="28.8" height="7.59" fill="#CF0000"/><rect x="1398.8" y="85.46" width="28.8" height="7.59" fill="#BF0000"/><rect x="1398.8" y="78.47" width="28.8" height="7.59" fill="#AF0000"/><rect x="1398.8" y="71.48" width="28.8" height="7.59" fill="#9F0000"/><rect x="1398.8" y="64.48" width="28.8" height="7.59" fill="#8F0000"/><rect x="1398.8" y="57.49" width="28.8" height="7.59" fill="#800000"/><rect x="1398.8" y="50.50" width="28.8" height="7.59" fill="#700000"/></g>
<g stroke="#000" stroke-width="1" fill="none" shape-rendering="crispEdges"><rect x="1398.8" y="50.5" width="28.8" height="447.5"/><path d="M1398.8 57.4h4M1427.6 57.4h-4"/><path d="M1398.8 98.9h4M1427.6 98.9h-4"/><path d="M1398.8 140.4h4M1427.6 140.4h-4"/><path d="M1398.8 181.9h4M1427.6 181.9h-4"/><path d="M1398.8 223.4h4M1427.6 223.4h-4"/><path d="M1398.8 264.9h4M1427.6 264.9h-4"/><path d="M1398.8 306.4h4M1427.6 306.4h-4"/><path d="M1398.8 347.9h4M1427.6 347.9h-4"/><path d="M1398.8 389.4h4M1427.6 389.4h-4"/><path d="M1398.8 430.9h4M1427.6 430.9h-4"/><path d="M1398.8 472.4h4M1427.6 472.4h-4"/></g>
<g font-size="16" fill="#000"><text x="1431.5" y="63.6">34.6</text><text x="1431.5" y="105.1">34.5</text><text x="1431.5" y="146.6">34.4</text><text x="1431.5" y="188.1">34.3</text><text x="1431.5" y="229.6">34.2</text><text x="1431.5" y="271.1">34.1</text><text x="1431.5" y="312.6">34</text><text x="1431.5" y="354.1">33.9</text><text x="1431.5" y="395.6">33.8</text><text x="1431.5" y="437.1">33.7</text><text x="1431.5" y="478.6">33.6</text></g>
</svg>
</body></html>
